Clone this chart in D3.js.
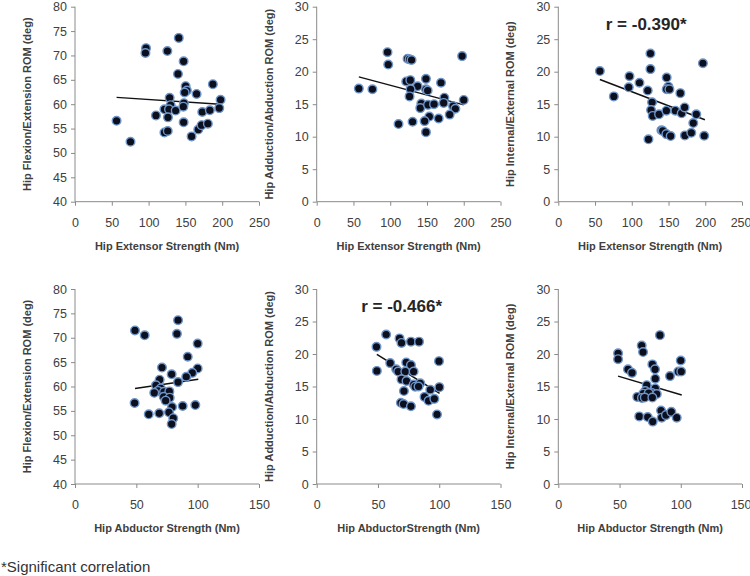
<!DOCTYPE html>
<html><head><meta charset="utf-8">
<script src="https://cdn.jsdelivr.net/npm/d3@7"></script>
<style>body{margin:0;background:#fff}svg{display:block}text{font-family:"Liberation Sans",Arial,sans-serif}</style>
</head><body><svg id="c" width="750" height="576"></svg>
<script>
// Panel 1: Hip extensor strength vs flexion/extension ROM
const p1x=[141,96.5,95.7,125.5,147.6,139.9,150.3,152,149,187.3,165.2,128.6,130,121.5,127.7,136.8,148,147.2,126.3,110,56.5,75.4,121.5,126,147.6,158.4,167.5,172,180.5,172.9,183.2,197.8,196];
const p1y=[73.6,71.5,70.5,70.9,68.8,66.2,63.7,62.8,62.4,64.1,62.1,61.3,59.8,58.95,58.95,58.7,60.2,59.5,57.3,57.7,56.6,52.3,54.2,54.5,56.3,53.4,54.8,55.7,56,58.4,58.75,60.9,59.2];
// Panel 2: extensor vs adduction/abduction ROM
const p2x=[96.3,97.3,123.6,126.3,129,197.8,57.3,75.8,121.8,127.3,148.6,169.1,137.3,127.7,148.6,150.9,126.3,173.6,172.7,200,142.3,140.9,151.4,159.6,185.5,188.6,180.9,165.9,153.2,146.8,130.4,111.3,148.6];
const p2y=[23,21.1,22,21.9,21.8,22.4,17.4,17.3,18.5,18.7,18.9,18.3,17.75,17.3,17.3,17.1,16.2,16,15.2,15.65,15.1,14.4,14.9,15,14.7,14.3,13.4,12.8,13.1,12.4,12.3,11.95,10.7];
// Panel 3: extensor vs internal/external ROM
const p3x=[125.4,125.4,196.8,56.6,96.9,110.5,95.9,147.5,149.8,147.5,151.2,121.7,166.1,75.6,127.6,126.2,128.5,137.1,147.1,159.3,167.9,171.9,187.8,183.7,140.3,142.1,147.1,152.9,122.7,172.3,181,198.6];
const p3y=[22.8,20.4,21.3,20.1,19.3,18.3,17.6,19.1,17.7,17.3,17.3,17.1,16.7,16.2,15.3,14.1,13.2,13.45,14,14,13.6,14.5,13.45,12.1,11,10.9,10.4,10.1,9.6,10.2,10.6,10.15];
// Panel 4: abductor strength vs flexion/extension ROM
const p4x=[84,48.9,56.8,83.1,100,91.9,70.9,78.8,100,95.6,90.7,84,69,66,69.9,67.7,64.6,72.6,76.9,72.3,77.2,73.9,48.6,79.1,87.8,98.1,60.1,68.7,76.6,80.1,78.8];
const p4y=[73.6,71.5,70.5,70.8,68.8,66.1,63.9,62.5,63.7,62.8,62,60.9,61.4,60.25,59.6,59.1,58.7,58.9,59,57.9,57.7,57.1,56.6,55.8,56,56.2,54.3,54.5,54.7,53.5,52.3];
// Panel 5: abductor vs adduction/abduction ROM
const p5x=[56.7,48.8,67.6,69.2,76.9,83.5,99.8,49.1,60,64.9,66.5,73.1,76.9,72.3,79.1,69.2,73.3,79.1,80.4,84.5,83.1,71.2,92.7,100.1,88,91.3,96,68.7,70.9,76.9,98.2];
const p5y=[23,21.1,22.4,21.7,21.9,21.9,18.9,17.4,18.6,17.65,17.3,18.7,18.3,17.3,17.3,16.1,15.85,15.3,14.97,15.5,15,14.3,14.5,14.9,13.4,12.8,13.1,12.5,12.3,11.95,10.7];
// Panel 6: abductor vs internal/external ROM
const p6x=[83,68.1,69.2,48.8,48.8,100,56.9,60.2,76.8,79,98,100.4,91.2,79.2,72.2,79.2,76.5,80.4,71,69.4,73.8,64.5,68.3,70.6,76.8,66.1,73,77.1,83.9,84.4,87.9,92.3,96.7];
const p6y=[22.9,21.3,20.3,20.1,19.2,19,17.65,17.1,18.4,17.65,17.3,17.3,16.6,16.2,15.2,14.7,14,13.85,14.3,13.9,14,13.4,13.25,13.3,13.3,10.4,10.3,9.6,11.3,10.2,10.6,11.1,10.2];
// Trend lines [x0, y0, x1, y1]
const trend1=[56.5,61.4,197,60.0];
const trend2=[57.3,19.2,200,14.9];
const trend3=[56.6,18.8,199.5,12.6];
const trend4=[48.9,59.6,100.5,61.5];
const trend5=[49.1,19.95,100.3,13.95];
const trend6=[48.8,16.6,100.8,13.7];
// Tick labels
const xTicksExt=[0,50,100,150,200,250];
const xTicksAbd=[0,50,100,150];
const yTicksFE=[40,45,50,55,60,65,70,75,80];
const yTicksROM=[0,5,10,15,20,25,30];
// Titles
const xTitles=["Hip Extensor Strength (Nm)","Hip Extensor Strength (Nm)","Hip Extensor Strength (Nm)","Hip Abductor Strength (Nm)","Hip AbductorStrength (Nm)","Hip Abductor Strength (Nm)"];
const yTitles=["Hip Flexion/Extension ROM (deg)","Hip Adduction/Abduction ROM (deg)","Hip Internal/External ROM (deg)","Hip Flexion/Extension ROM (deg)","Hip Adduction/Abduction ROM (deg)","Hip Internal/External ROM (deg)"];
const rLabels=["","","r = -0.390*","","r = -0.466*",""];
const footnote="*Significant correlation";

const svg=d3.select("#c");
const colX=[[75,259],[316.7,500.5],[558.3,742]];
const rowY=[[201.7,6.7],[484,289]];
const panels=[
 {xs:p1x,ys:p1y,tr:trend1,xt:xTicksExt,yt:yTicksFE},
 {xs:p2x,ys:p2y,tr:trend2,xt:xTicksExt,yt:yTicksROM},
 {xs:p3x,ys:p3y,tr:trend3,xt:xTicksExt,yt:yTicksROM},
 {xs:p4x,ys:p4y,tr:trend4,xt:xTicksAbd,yt:yTicksFE},
 {xs:p5x,ys:p5y,tr:trend5,xt:xTicksAbd,yt:yTicksROM},
 {xs:p6x,ys:p6y,tr:trend6,xt:xTicksAbd,yt:yTicksROM}
];
const axisCol="#8a8a8a", txtCol="#404040";
panels.forEach((p,i)=>{
  const c=i%3, r=Math.floor(i/3);
  const x=d3.scaleLinear().domain(d3.extent(p.xt)).range(colX[c]);
  const y=d3.scaleLinear().domain(d3.extent(p.yt)).range(rowY[r]);
  const g=svg.append("g");
  const ax=g.append("g").attr("transform",`translate(0,${rowY[r][0]})`)
    .call(d3.axisBottom(x).tickValues(p.xt).tickSize(4).tickPadding(12).tickFormat(d3.format("d")));
  const ay=g.append("g").attr("transform",`translate(${colX[c][0]},0)`)
    .call(d3.axisLeft(y).tickValues(p.yt).tickSize(4).tickPadding(4).tickFormat(d3.format("d")));
  [ax,ay].forEach(a=>{
    a.selectAll("path,line").attr("stroke",axisCol).attr("stroke-width",1);
    a.select(".domain").attr("d", a===ax ? `M${colX[c][0]},0H${colX[c][1]}` : `M0,${rowY[r][0]}V${rowY[r][1]}`);
    a.selectAll("text").attr("fill",txtCol).style("font-size","12.5px").style("font-family","Liberation Sans, Arial, sans-serif");
  });
  if(c===2) ax.selectAll(".tick:last-of-type text").attr("text-anchor","end").attr("dx","9");
  const xm=(colX[c][0]+colX[c][1])/2, ym=(rowY[r][0]+rowY[r][1])/2;
  g.append("text").attr("x",xm).attr("y",rowY[r][0]+48).attr("text-anchor","middle")
   .attr("fill",txtCol).style("font-size","11px").style("font-weight","bold").text(xTitles[i]);
  g.append("text").attr("transform",`translate(${colX[c][0]-44},${ym}) rotate(-90)`).attr("text-anchor","middle")
   .attr("fill",txtCol).style("font-size","11px").style("font-weight","bold").text(yTitles[i]);
  g.append("line").attr("x1",x(p.tr[0])).attr("y1",y(p.tr[1])).attr("x2",x(p.tr[2])).attr("y2",y(p.tr[3]))
   .attr("stroke","#111").attr("stroke-width",1.5);
  g.selectAll("circle").data(p.xs.map((v,k)=>[v,p.ys[k]])).join("circle")
   .attr("cx",d=>x(d[0])).attr("cy",d=>y(d[1])).attr("r",4.3)
   .attr("fill","#0b0f1e").attr("stroke","#6f95c8").attr("stroke-width",1.4);
  if(rLabels[i]) g.append("text").attr("x",xm+(c===2?-4:-7)).attr("y",rowY[r][1]+23).attr("text-anchor","middle")
   .attr("fill","#262626").style("font-size","17px").style("font-weight","bold").text(rLabels[i]);
});
svg.append("text").attr("x",1).attr("y",572).attr("fill","#333").style("font-size","15px").text(footnote);
</script></body></html>
